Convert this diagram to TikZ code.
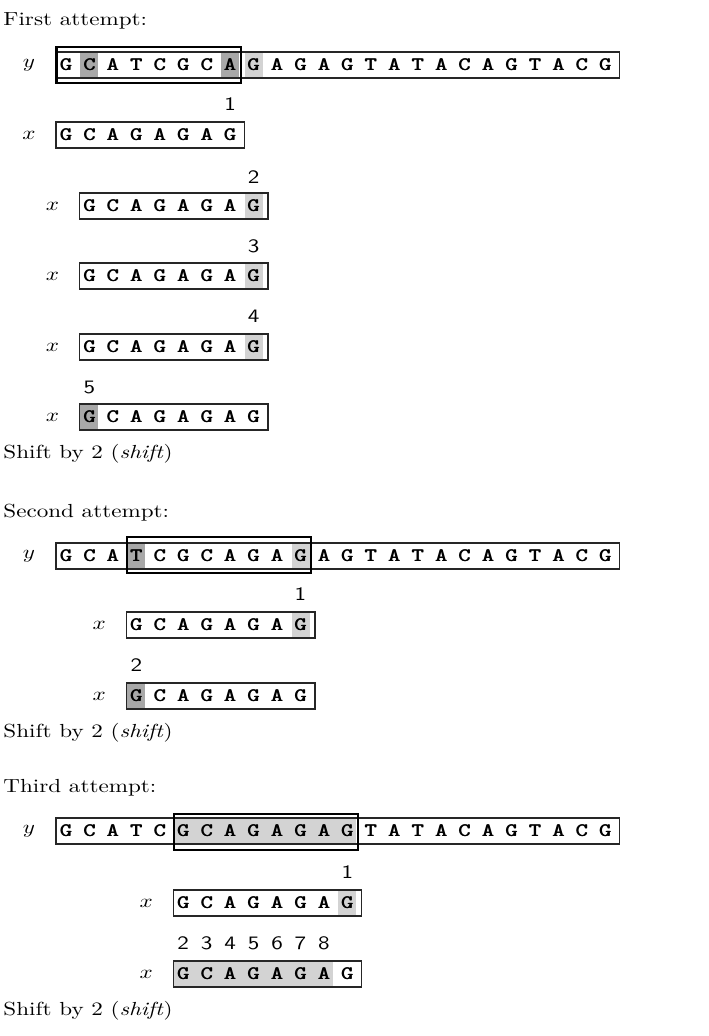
\documentclass[tikz,border=0pt]{standalone}
\usepackage{graphicx}
\definecolor{darkshade}{RGB}{168,168,168}
\definecolor{lightshade}{RGB}{211,211,211}
\newcommand\sq[1]{\scalebox{1}[0.82]{#1}}
\newcommand\hv[1]{\rlap{#1}\kern0.3pt#1}
\tikzset{
  cell/.style={inner sep=0pt, font=\ttfamily},
  numlbl/.style={inner sep=0pt, font=\sffamily},
  rowlbl/.style={inner sep=0pt},
  hdr/.style={anchor=base west, inner sep=0pt},
  seqbox/.style={draw=black!85, line width=0.5pt},
  winframe/.style={draw=black, line width=0.95pt},
}
% #1 name, #2 position k, #3 centre y, #4 label, #5 length, #6 letters
\newcommand\SeqRow[6]{%
  \node[rowlbl] (#1-lbl) at ({29+23.45*(#2)},#3) {\sq{$#4$}};
  \foreach \ch [count=\i from 0] in {#6} {
    \node[cell] (#1-\i) at ({66+23.45*(#2+\i)},#3) {\sq{\hv{\ch}}};
  }
  \draw[seqbox] ({56+23.45*(#2)},{#3-13}) coordinate (#1-nw) rectangle ({57+23.45*(#2+#5)},{#3+13}) coordinate (#1-se);
}
% #1 colour, #2 k, #3 centre y, #4 from cell, #5 to cell
\newcommand\Shade[5]{%
  \fill[#1] ({57+23.45*(#2+#4)},{#3-12.5}) rectangle ({57+23.45*(#2+#5)+18},{#3+12.5});
}
% #1 name, #2 first cell, #3 top, #4 bottom
\newcommand\Win[4]{%
  \draw[winframe] ({56.5+23.45*(#2)},#3) coordinate (#1-nw) rectangle ({57+23.45*(#2+7)+19.5},#4) coordinate (#1-se);
}
\newcommand\Num[4]{% name, position, y, text
  \node[numlbl] (#1) at ({66+23.45*(#2)},#3) {\sq{#4}};
}
\begin{document}
\begin{tikzpicture}[x=0.4329pt,y=-0.4329pt]
\useasboundingbox (0,0) rectangle (709,1036);
% ---------- First attempt ----------
\node[hdr] (h1) at (3,25) {\sq{First attempt:}};
\Shade{darkshade}{0}{65}{1}{1}
\Shade{darkshade}{0}{65}{7}{7}
\Shade{lightshade}{0}{65}{8}{8}
\SeqRow{ya}{0}{65}{y}{24}{G,C,A,T,C,G,C,A,G,A,G,A,G,T,A,T,A,C,A,G,T,A,C,G}
\Win{wa}{0}{47}{83}
\Num{a1}{7}{104}{1}
\SeqRow{xa1}{0}{135}{x}{8}{G,C,A,G,A,G,A,G}
\Num{a2}{8}{177}{2}
\Shade{lightshade}{1}{206}{7}{7}
\SeqRow{xa2}{1}{206}{x}{8}{G,C,A,G,A,G,A,G}
\Num{a3}{8}{246}{3}
\Shade{lightshade}{1}{276}{7}{7}
\SeqRow{xa3}{1}{276}{x}{8}{G,C,A,G,A,G,A,G}
\Num{a4}{8}{316}{4}
\Shade{lightshade}{1}{347}{7}{7}
\SeqRow{xa4}{1}{347}{x}{8}{G,C,A,G,A,G,A,G}
\Num{a5}{1}{387}{5}
\Shade{darkshade}{1}{417}{0}{0}
\SeqRow{xa5}{1}{417}{x}{8}{G,C,A,G,A,G,A,G}
\node[hdr] (s1) at (3,458) {\sq{Shift by 2 (\textit{shift})}};
% ---------- Second attempt ----------
\node[hdr] (h2) at (3,517) {\sq{Second attempt:}};
\Shade{darkshade}{0}{556}{3}{3}
\Shade{lightshade}{0}{556}{10}{10}
\SeqRow{yb}{0}{556}{y}{24}{G,C,A,T,C,G,C,A,G,A,G,A,G,T,A,T,A,C,A,G,T,A,C,G}
\Win{wb}{3}{537}{573}
\Num{b1}{10}{594}{1}
\Shade{lightshade}{3}{625}{7}{7}
\SeqRow{xb1}{3}{625}{x}{8}{G,C,A,G,A,G,A,G}
\Num{b2}{3}{665}{2}
\Shade{darkshade}{3}{696}{0}{0}
\SeqRow{xb2}{3}{696}{x}{8}{G,C,A,G,A,G,A,G}
\node[hdr] (s2) at (3,737) {\sq{Shift by 2 (\textit{shift})}};
% ---------- Third attempt ----------
\node[hdr] (h3) at (3,792) {\sq{Third attempt:}};
\Shade{lightshade}{0}{831}{5}{12}
\SeqRow{yc}{0}{831}{y}{24}{G,C,A,T,C,G,C,A,G,A,G,A,G,T,A,T,A,C,A,G,T,A,C,G}
\Win{wc}{5}{814}{850}
\Num{c1}{12}{872}{1}
\foreach \n [count=\j from 5] in {2,3,4,5,6,7,8} {
  \Num{c\n}{\j}{943}{\n}
}
\Shade{lightshade}{5}{903}{7}{7}
\SeqRow{xc1}{5}{903}{x}{8}{G,C,A,G,A,G,A,G}
\Shade{lightshade}{5}{974}{0}{6}
\SeqRow{xc2}{5}{974}{x}{8}{G,C,A,G,A,G,A,G}
\node[hdr] (s3) at (3,1015) {\sq{Shift by 2 (\textit{shift})}};
\end{tikzpicture}
\end{document}
